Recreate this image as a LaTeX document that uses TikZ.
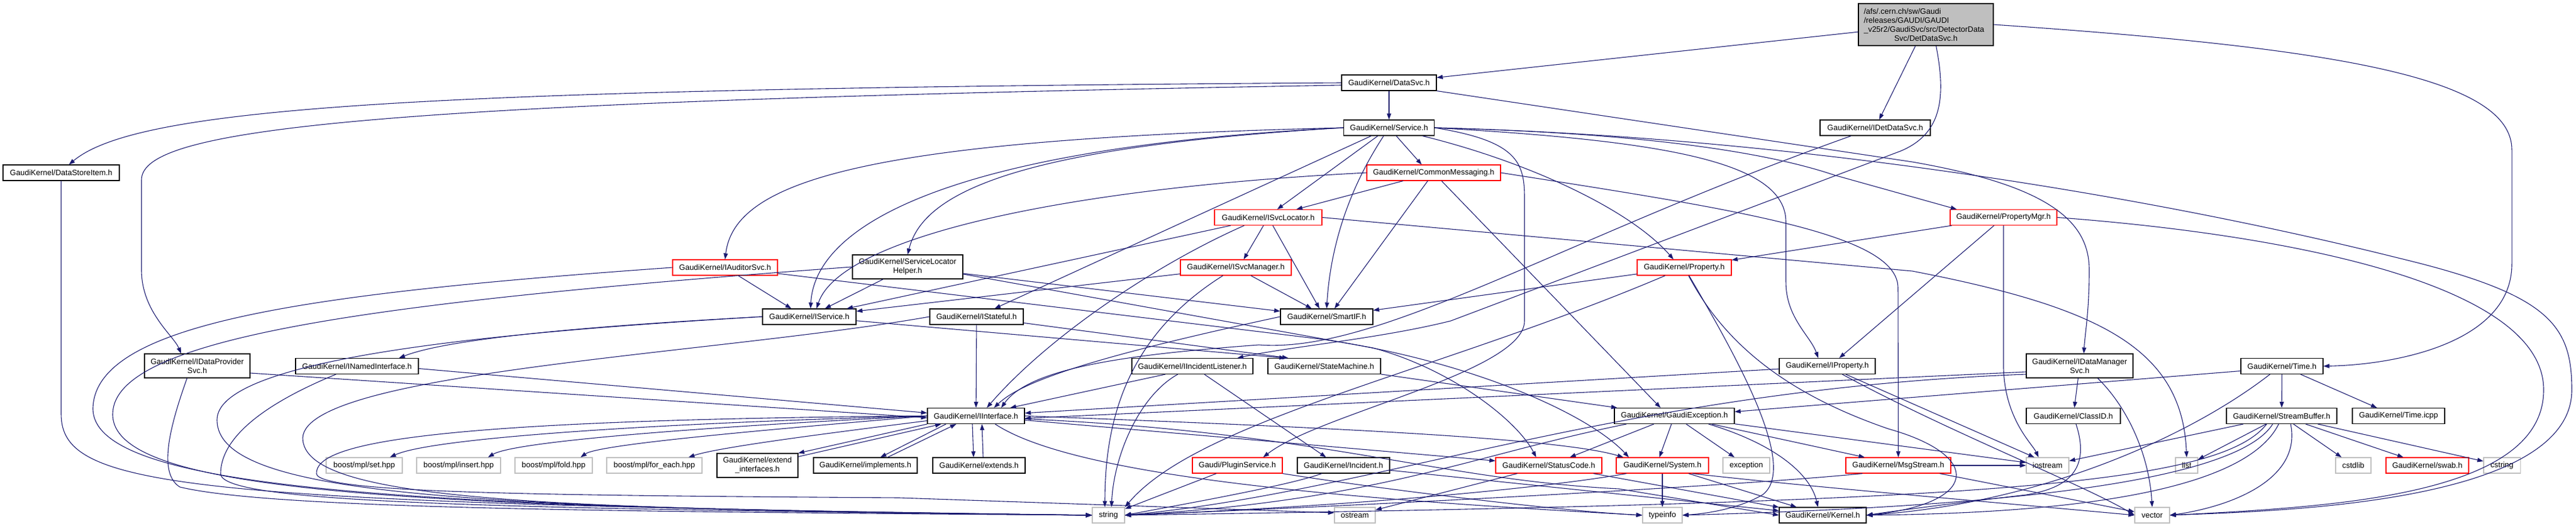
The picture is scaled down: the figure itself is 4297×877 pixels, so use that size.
\documentclass[tikz,border=0pt]{standalone}
\usepackage{fontspec}
\setmainfont{Liberation Sans}
\usetikzlibrary{arrows.meta}
\definecolor{edgec}{RGB}{25,25,112}
\definecolor{grayb}{RGB}{191,191,191}
\definecolor{rootfill}{RGB}{191,191,191}
\begin{document}
\begin{tikzpicture}[x=1pt,y=-1pt,
  nb/.style={draw=black,line width=1.1pt,fill=white,inner sep=0pt,minimum height=26pt,
    font=\fontsize{13}{15}\selectfont,align=center},
  rb/.style={nb,draw=red},
  gb/.style={nb,draw=grayb},
  edg/.style={draw=edgec,line width=1.1pt,-{Triangle[length=10pt,width=7pt]}}]
\useasboundingbox (0,0) rectangle (4297,877);
\fill[white] (0,0) rectangle (4297,877);
% ---------------- nodes ----------------
\node[nb,fill=rootfill,align=left,text width=207pt,inner xsep=9pt,minimum height=70pt] (root) at (3212.5,41)
 {/afs/.cern.ch/sw/Gaudi\\/releases/GAUDI/GAUDI\\\_v25r2/GaudiSvc/src/DetectorData\\\mbox{}\hfill Svc/DetDataSvc.h\hfill\mbox{}};
\node[nb,minimum width=158pt] (ds) at (2317,138) {GaudiKernel/DataSvc.h};
\node[nb,minimum width=184pt] (idds) at (3128,213) {GaudiKernel/IDetDataSvc.h};
\node[nb,minimum width=194pt] (dsi) at (102,288) {GaudiKernel/DataStoreItem.h};
\node[nb,minimum width=151pt] (svc) at (2317,213) {GaudiKernel/Service.h};
\node[rb,minimum width=223pt] (cm) at (2391.5,288) {GaudiKernel/CommonMessaging.h};
\node[rb,minimum width=175pt] (ias) at (1209.5,446) {GaudiKernel/IAuditorSvc.h};
\node[nb,minimum width=184pt,minimum height=40pt] (slh) at (1514,445) {GaudiKernel/ServiceLocator\\Helper.h};
\node[rb,minimum width=179pt] (isl) at (2115.5,362.5) {GaudiKernel/ISvcLocator.h};
\node[rb,minimum width=185pt] (ism) at (2061.5,446) {GaudiKernel/ISvcManager.h};
\node[rb,minimum width=157pt] (prop) at (2809.5,446) {GaudiKernel/Property.h};
\node[rb,minimum width=178pt] (pmgr) at (3342,362.5) {GaudiKernel/PropertyMgr.h};
\node[nb,minimum width=156pt] (isv) at (1350,528) {GaudiKernel/IService.h};
\node[nb,minimum width=156pt] (ist) at (1629,528) {GaudiKernel/IStateful.h};
\node[nb,minimum width=154pt] (sif) at (2213,528) {GaudiKernel/SmartIF.h};
\node[nb,minimum width=176pt,minimum height=40pt] (idps) at (329,610) {GaudiKernel/IDataProvider\\Svc.h};
\node[nb,minimum width=205pt] (ini) at (595.5,610.5) {GaudiKernel/INamedInterface.h};
\node[nb,minimum width=202pt] (iil) at (1989,610.5) {GaudiKernel/IIncidentListener.h};
\node[nb,minimum width=188pt] (stm) at (2209,610.5) {GaudiKernel/StateMachine.h};
\node[nb,minimum width=160pt] (ipr) at (3048,610.5) {GaudiKernel/IProperty.h};
\node[nb,minimum width=178pt,minimum height=40pt] (idms) at (3469,610) {GaudiKernel/IDataManager\\Svc.h};
\node[nb,minimum width=137pt] (time) at (3806.5,610.5) {GaudiKernel/Time.h};
\node[nb,minimum width=162pt] (iif) at (1628,693.5) {GaudiKernel/IInterface.h};
\node[nb,minimum width=200pt] (gex) at (2793,693.5) {GaudiKernel/GaudiException.h};
\node[nb,minimum width=157pt] (cid) at (3458.5,693.5) {GaudiKernel/ClassID.h};
\node[nb,minimum width=184pt] (sbuf) at (3806,693.5) {GaudiKernel/StreamBuffer.h};
\node[nb,minimum width=154pt] (ticpp) at (4001,693.5) {GaudiKernel/Time.icpp};
\node[gb,minimum width=127pt] (bset) at (607.5,776) {boost/mpl/set.hpp};
\node[gb,minimum width=140pt] (bins) at (765,776) {boost/mpl/insert.hpp};
\node[gb,minimum width=129pt] (bfold) at (923.5,776) {boost/mpl/fold.hpp};
\node[gb,minimum width=159pt] (bfe) at (1091.5,776) {boost/mpl/for\_each.hpp};
\node[nb,minimum width=135pt,minimum height=40pt] (extif) at (1263.5,776) {GaudiKernel/extend\\\_interfaces.h};
\node[nb,minimum width=173pt] (impl) at (1443.5,776) {GaudiKernel/implements.h};
\node[nb,minimum width=154pt] (exts) at (1633,776) {GaudiKernel/extends.h};
\node[rb,minimum width=150pt] (plug) at (2064,776) {Gaudi/PluginService.h};
\node[nb,minimum width=154pt] (inc) at (2241,776) {GaudiKernel/Incident.h};
\node[rb,minimum width=177pt] (sc) at (2583.5,776) {GaudiKernel/StatusCode.h};
\node[rb,minimum width=154pt] (sys) at (2773,776) {GaudiKernel/System.h};
\node[gb,minimum width=78pt] (exc) at (2913,776) {exception};
\node[rb,minimum width=175pt] (msg) at (3166.5,776) {GaudiKernel/MsgStream.h};
\node[gb,minimum width=71pt] (iost) at (3415.5,776) {iostream};
\node[gb,minimum width=37pt] (list) at (3647.5,776) {list};
\node[gb,minimum width=59pt] (cstdlib) at (3925.5,776) {cstdlib};
\node[rb,minimum width=138pt] (swab) at (4049,776) {GaudiKernel/swab.h};
\node[gb,minimum width=61pt] (cstring) at (4173.5,776) {cstring};
\node[gb,minimum width=54pt] (string) at (1849,859) {string};
\node[gb,minimum width=68pt] (ostream) at (2260,859) {ostream};
\node[gb,minimum width=66pt] (typeinfo) at (2773,859) {typeinfo};
\node[nb,minimum width=145pt] (kernel) at (3040.5,859) {GaudiKernel/Kernel.h};
\node[gb,minimum width=58pt] (vector) at (3590,859) {vector};
% ---------------- edges ----------------
% root
\draw[edg] (root) -- (ds);
\draw[edg] (root) -- (idds);
\draw[edg] ([xshift=17pt]root.south) .. controls (3248,170) and (3235,225) .. (3170,252) -- (2420,535) .. controls (2300,565) and (2150,578) .. ([xshift=75pt]iil.north);
\draw[edg] (root.east) .. controls (3900,80) and (4190,130) .. (4190,250) -- (4190,440) .. controls (4190,570) and (4000,608) .. (time.east);
% DataSvc
\draw[edg] (ds.west) .. controls (700,148) and (230,178) .. ([xshift=13pt]dsi.north);
\draw[edg] ([yshift=-4pt]ds.west) .. controls (600,170) and (236,215) .. (236,300) -- (236,450) .. controls (236,520) and (290,560) .. ([xshift=-27pt]idps.north);
\draw[edg] (ds) -- (svc);
\draw[edg] (ds.south east) -- (3190,270) .. controls (3420,310) and (3485,370) .. (3485,450) .. controls (3485,520) and (3478,555) .. ([xshift=7pt]idms.north);
% Service
\draw[edg] (svc.west) .. controls (1450,232) and (1225,300) .. (ias.north);
\draw[edg] (svc.west) .. controls (1700,245) and (1540,320) .. (slh.north);
\draw[edg] (svc.west) .. controls (1600,245) and (1360,370) .. ([xshift=2pt]isv.north);
\draw[edg] (svc) -- ([xshift=-20pt]cm.north);
\draw[edg] (svc) -- ([xshift=15pt]isl.north);
\draw[edg] (svc) .. controls (2240,330) and (2218,430) .. (sif.north);
\draw[edg] (svc) -- ([xshift=30pt]ist.north);
\draw[edg] (svc.east) .. controls (2530,235) and (2543,270) .. (2543,330) -- (2543,535) .. controls (2543,620) and (2200,690) .. ([xshift=43pt]plug.north);
\draw[edg] (svc) .. controls (2550,270) and (2720,350) .. ([xshift=-18pt]prop.north);
\draw[edg] (svc.east) .. controls (2780,235) and (2979,270) .. (2979,370) -- (2979,470) .. controls (2979,530) and (3020,560) .. ([xshift=-15pt]ipr.north);
\draw[edg] (svc.east) .. controls (2750,222) and (2950,255) .. (3060,292) -- ([xshift=-78pt]pmgr.north);
\draw[edg] (svc.east) .. controls (3000,228) and (3600,330) .. (4000,430) .. controls (4250,490) and (4290,540) .. (4290,650) .. controls (4290,840) and (3800,852) .. (vector.east);
% CommonMessaging
\draw[edg] (cm.west) .. controls (1750,315) and (1400,400) .. ([xshift=12pt]isv.north);
\draw[edg] (cm) -- ([xshift=47pt]isl.north);
\draw[edg] (cm) -- ([xshift=13pt]sif.north);
\draw[edg] (cm) -- ([xshift=-23pt]gex.north);
\draw[edg] (cm.east) .. controls (2900,350) and (3166,390) .. (3166,480) -- (msg.north);
% ISvcLocator
\draw[edg] (isl) -- ([xshift=13pt]ism.north);
\draw[edg] (isl) -- ([xshift=-12pt]sif.north);
\draw[edg] ([xshift=-40pt]isl.south) .. controls (1930,440) and (1750,560) .. ([xshift=18pt]iif.north);
\draw[edg] (isl.east) -- (3190,452) .. controls (3500,512) and (3640,580) .. (list.north);
\draw[edg] (isl) -- (isv);
% ISvcManager
\draw[edg] (ism) -- (isv);
\draw[edg] (ism) -- ([xshift=-25pt]sif.north);
\draw[edg] (ism) .. controls (1880,560) and (1843,700) .. ([xshift=-6pt]string.north);
% IAuditorSvc
\draw[edg] (ias) -- ([xshift=-30pt]isv.north);
\draw[edg] (ias.west) .. controls (500,490) and (160,540) .. (155,680) .. controls (152,820) and (700,846) .. (string.west);
\draw[edg] ([yshift=-10pt]ias.east) -- (2200,565) .. controls (2450,600) and (2650,690) .. ([xshift=-56pt]sys.north);
% ServiceLocatorHelper
\draw[edg] (slh) -- ([xshift=26pt]isv.north);
\draw[edg] (slh.west) .. controls (600,505) and (190,565) .. (188,690) .. controls (186,825) and (700,846) .. (string.west);
\draw[edg] (slh) -- (sif);
\draw[edg] ([yshift=-12pt]slh.east) -- (2290,580) .. controls (2420,615) and (2530,700) .. ([xshift=-21pt]sc.north);
% IService
\draw[edg] (isv.west) .. controls (1050,540) and (760,560) .. ([xshift=70pt]ini.north);
\draw[edg] (isv.west) .. controls (900,550) and (362,590) .. (362,700) .. controls (362,830) and (800,847) .. (string.west);
\draw[edg] (isv) -- ([xshift=-65pt]stm.north);
% IStateful
\draw[edg] (ist) -- ([xshift=-60pt]stm.north);
\draw[edg] (ist) -- (iif);
\draw[edg] (ist.west) .. controls (1200,590) and (510,620) .. (505,730) .. controls (505,835) and (900,849) .. (string.west);
% SmartIF
\draw[edg] (sif.west) .. controls (1800,600) and (1700,640) .. ([xshift=30pt]iif.north);
% INamedInterface
\draw[edg] ([yshift=-4pt]ini.east) -- ([yshift=5pt]iif.west);
\draw[edg] ([xshift=-35pt]ini.south) .. controls (400,690) and (368,750) .. (368,790) .. controls (370,838) and (800,848) .. (string.west);
% IDataProviderSvc
\draw[edg] ([yshift=-12pt]idps.east) -- ([yshift=-3pt]iif.west);
\draw[edg] ([xshift=-17pt]idps.south) .. controls (280,720) and (265,790) .. (300,812) .. controls (450,848) and (1000,853) .. (string.west);
% DataStoreItem
\draw[edg] (dsi.south) -- (102,690) .. controls (102,815) and (300,838) .. (string.west);
% IDetDataSvc
\draw[edg] ([xshift=-40pt]idds.south) .. controls (2600,400) and (2300,590) .. (2100,575) .. controls (1900,590) and (1720,610) .. ([xshift=42pt]iif.north);
% IIncidentListener
\draw[edg] ([xshift=-45pt]iil.south) -- ([xshift=57pt]iif.north);
\draw[edg] (iil) .. controls (1900,660) and (1858,760) .. ([xshift=5pt]string.north);
\draw[edg] (iil) -- ([xshift=-29pt]inc.north);
% StateMachine
\draw[edg] (stm) -- (gex);
% Property
\draw[edg] (prop) -- (sif);
\draw[edg] (prop) .. controls (2400,620) and (2000,700) .. (string.north east);
\draw[edg] (prop) .. controls (2900,600) and (3000,780) .. (2940,825) .. controls (2900,848) and (2850,856) .. (typeinfo.east);
\draw[edg] (prop) .. controls (2880,580) and (2990,660) .. (3150,715) .. controls (3310,760) and (3300,840) .. (kernel.east);
% PropertyMgr
\draw[edg] (pmgr) -- (prop);
\draw[edg] (pmgr) -- ([xshift=20pt]ipr.north);
\draw[edg] (pmgr.south) -- (3342,615) .. controls (3345,700) and (3390,740) .. ([xshift=-15pt]iost.north);
\draw[edg] (pmgr.east) .. controls (3800,390) and (4243,470) .. (4243,650) .. controls (4243,825) and (3900,845) .. (vector.east);
% IProperty
\draw[edg] (ipr) -- (iif);
\draw[edg] (ipr) -- ([xshift=-22pt]iost.north);
\draw[edg] (ipr) .. controls (3250,720) and (3480,810) .. (vector.west);
% IDataManagerSvc
\draw[edg] ([yshift=-10pt]idms.west) -- ([yshift=-4pt]iif.east);
\draw[edg] ([yshift=-14pt]idms.west) .. controls (2700,650) and (2300,820) .. (string.east);
\draw[edg] (idms) -- (cid);
\draw[edg] ([xshift=30pt]idms.south) .. controls (3550,680) and (3585,760) .. (vector.north);
% ClassID
\draw[edg] (cid) .. controls (3490,790) and (3440,815) .. (3380,825) .. controls (3250,840) and (3160,852) .. (kernel.east);
% Time
\draw[edg] ([yshift=-8pt]time.west) -- ([yshift=7pt]gex.east);
\draw[edg] (time) -- (sbuf);
\draw[edg] (time) -- ([xshift=-36pt]ticpp.north);
\draw[edg] ([xshift=-20pt]time.south) .. controls (3650,730) and (3400,840) .. (kernel.east);
% StreamBuffer
\draw[edg] (sbuf) -- (iost);
\draw[edg] (sbuf) -- (list);
\draw[edg] ([xshift=-25pt]sbuf.south) .. controls (3700,810) and (3300,838) .. (string.east);
\draw[edg] ([xshift=-15pt]sbuf.south) .. controls (3720,820) and (3200,848) .. (typeinfo.east);
\draw[edg] ([xshift=-5pt]sbuf.south) .. controls (3740,830) and (3400,856) .. (kernel.east);
\draw[edg] ([xshift=15pt]sbuf.south) .. controls (3840,800) and (3720,845) .. (vector.east);
\draw[edg] (sbuf) -- (cstdlib);
\draw[edg] (sbuf) -- (swab);
\draw[edg] (sbuf) -- (cstring);
% GaudiException
\draw[edg] ([xshift=-80pt]gex.south) .. controls (2450,760) and (2300,835) .. (string.east);
\draw[edg] (gex) -- ([xshift=35pt]sc.north);
\draw[edg] (gex) -- ([xshift=-5pt]sys.north);
\draw[edg] (gex) -- (exc);
\draw[edg] (gex) -- ([xshift=-56pt]msg.north);
\draw[edg] ([xshift=57pt]gex.south) .. controls (2960,740) and (3020,790) .. ([xshift=-8pt]kernel.north);
\draw[edg] (gex) -- (iost);
% StatusCode
\draw[edg] (sc) -- (ostream);
\draw[edg] (sc) -- (kernel);
% System
\draw[edg] ([xshift=-60pt]sys.south) .. controls (2600,810) and (2300,842) .. (string.east);
\draw[edg] (sys) -- (typeinfo);
\draw[edg] (sys) -- (kernel);
\draw[edg] ([xshift=50pt]sys.south) .. controls (3000,810) and (3300,835) .. (vector.west);
% MsgStream
\draw[edg] ([xshift=-60pt]msg.south) .. controls (2900,810) and (2300,842) .. (string.east);
\draw[edg] (msg) -- (iost);
\draw[edg] (msg) -- (vector);
% Incident
\draw[edg] (inc) .. controls (2150,810) and (1950,845) .. (string.east);
\draw[edg] (inc) -- (kernel);
% PluginService
\draw[edg] (plug) -- (string);
\draw[edg] (plug.south east) .. controls (2300,815) and (2600,852) .. (typeinfo.west);
% IInterface
\draw[edg] (iif.west) .. controls (1100,705) and (720,730) .. ([xshift=43pt]bset.north);
\draw[edg] (iif.west) .. controls (1200,710) and (860,735) .. ([xshift=49pt]bins.north);
\draw[edg] (iif.west) .. controls (1300,715) and (1000,740) .. ([xshift=45pt]bfold.north);
\draw[edg] ([yshift=-8pt]iif.west) .. controls (1400,720) and (1200,745) .. ([xshift=57pt]bfe.north);
\draw[edg] (iif.west) .. controls (700,700) and (525,740) .. (528,790) .. controls (532,822) and (900,826) .. (1500,830) -- ([yshift=4pt]ostream.west);
\draw[edg] (iif.south west) -- (extif.north east);
\draw[edg] ([yshift=-6pt]extif.north east) -- ([xshift=-58pt]iif.south);
\draw[edg] ([xshift=-50pt]iif.south) -- ([xshift=25pt]impl.north);
\draw[edg] ([xshift=37pt]impl.north) -- ([xshift=-33pt]iif.south);
\draw[edg] ([xshift=-6pt]iif.south) -- ([xshift=-9pt]exts.north);
\draw[edg] ([xshift=7pt]exts.north) -- ([xshift=10pt]iif.south);
\draw[edg] (iif) -- (sc);
\draw[edg] (iif.east) .. controls (2200,712) and (2600,730) .. ([xshift=-65pt]sys.north);
\draw[edg] ([yshift=-5pt]iif.east) .. controls (2200,720) and (2400,800) .. (2700,815) -- (kernel.west);
\draw[edg] ([xshift=32pt]iif.south) .. controls (1800,800) and (2300,835) .. (typeinfo.west);
\end{tikzpicture}
\end{document}
